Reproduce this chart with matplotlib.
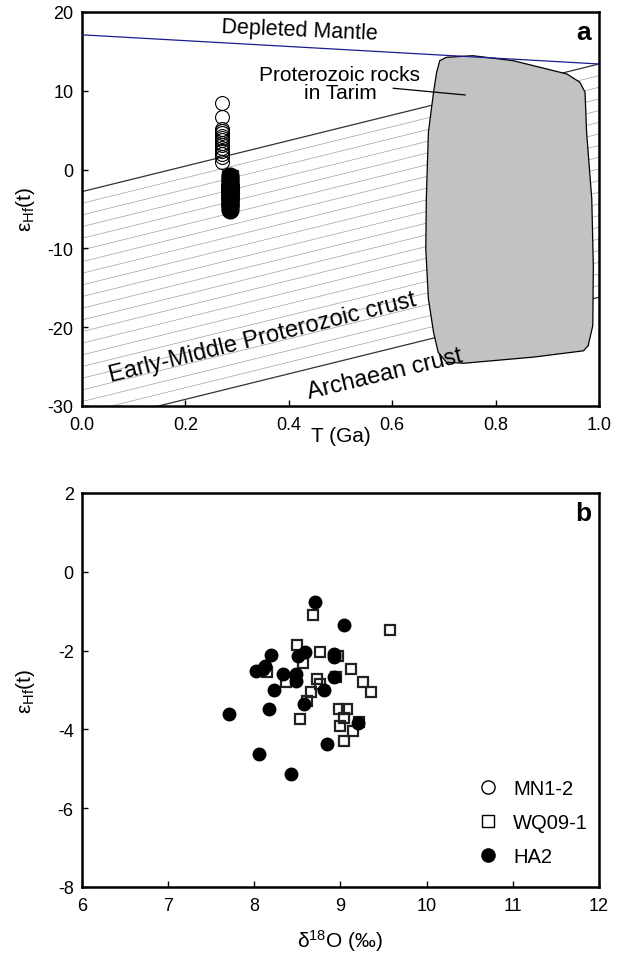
import matplotlib
matplotlib.use('Agg')
import numpy as np
import matplotlib.pyplot as plt
from matplotlib.patches import Polygon
from matplotlib.lines import Line2D

plt.rcParams['font.family'] = ['Liberation Sans', 'DejaVu Sans']
plt.rcParams['mathtext.fontset'] = 'custom'
plt.rcParams['mathtext.rm'] = 'Liberation Sans'
plt.rcParams['mathtext.it'] = 'Liberation Sans:italic'
plt.rcParams['mathtext.bf'] = 'Liberation Sans:bold'
plt.rcParams['axes.unicode_minus'] = False

# --- panel a: evolution lines (T in Ga, eHf(t)) ---
dm_t = [0.0, 1.0]
dm_e = [17.1, 13.4]
crust_top_t = [0.0, 1.0]
crust_top_e = [-2.8, 13.4]
crust_bot_t = [0.0, 1.0]
crust_bot_e = [-32.4, -16.2]

# outline of the Proterozoic rocks field in Tarim
blob_t = [0.692, 0.705, 0.756, 0.834, 0.938, 0.963, 0.973, 0.976, 0.986,
          0.989, 0.988, 0.979, 0.970, 0.873, 0.738, 0.705, 0.689, 0.680,
          0.670, 0.665, 0.666, 0.670, 0.680, 0.686]
blob_e = [13.82, 14.25, 14.45, 13.82, 12.13, 11.08, 9.81, 4.73, -3.7,
          -12.2, -19.8, -22.35, -23.0, -23.8, -24.58, -24.45, -23.2, -20.65,
          -16.4, -10.1, -3.7, 4.73, 9.81, 12.35]

# zircon ages (Ga) and eHf(t)
mn_age = 0.271
mn_ehf = [8.5, 6.7, 5.2, 4.9, 4.6, 4.3, 4.0, 3.7, 3.4, 3.1, 2.7, 2.4, 2.0, 1.6, 0.9]
wq_age = 0.286
ha_age = 0.286

# --- panel b: d18O vs eHf(t) ---
wq_d18o = [8.68, 9.58, 8.50, 8.76, 8.97, 8.56, 9.12, 8.15, 8.95, 8.73, 9.26, 8.37,
           8.76, 9.35, 8.66, 8.61, 8.98, 9.07, 9.04, 9.22, 8.53, 8.99, 9.15, 9.04]
wq_ehf = [-1.10, -1.48, -1.85, -2.04, -2.15, -2.31, -2.48, -2.55, -2.68, -2.72, -2.79, -2.80,
          -2.85, -3.04, -3.04, -3.27, -3.48, -3.48, -3.71, -3.80, -3.74, -3.92, -4.05, -4.30]
ha_d18o = [8.70, 9.04, 8.19, 8.12, 8.02, 8.10, 8.33, 8.48, 8.48, 8.51, 8.59, 8.92,
           8.92, 8.92, 8.81, 8.23, 8.58, 8.17, 7.71, 9.20, 8.84, 8.06, 8.43]
ha_ehf = [-0.77, -1.35, -2.11, -2.38, -2.53, -2.47, -2.60, -2.60, -2.76, -2.13, -2.04, -2.09,
          -2.17, -2.68, -2.99, -2.99, -3.36, -3.48, -3.61, -3.85, -4.37, -4.62, -5.13]

fig = plt.figure(figsize=(6.34, 9.54), dpi=100)
ax1 = fig.add_axes([0.1293, 0.5734, 0.8155, 0.4130])
ax2 = fig.add_axes([0.1293, 0.0692, 0.8155, 0.4130])

for ax in (ax1, ax2):
    for sp in ax.spines.values():
        sp.set_linewidth(1.8)
    ax.tick_params(direction='in', length=4, width=1, labelsize=13, top=False, right=False)
    ax.tick_params(axis='x', pad=7)
    ax.tick_params(axis='y', pad=6)

# ---- panel a ----
n_hatch = 20
for k in range(1, n_hatch):
    f = k / n_hatch
    e = [crust_top_e[i] + (crust_bot_e[i] - crust_top_e[i]) * f for i in range(2)]
    ax1.plot(crust_top_t, e, color='#a0a0a0', lw=0.5, zorder=1)
ax1.plot(crust_top_t, crust_top_e, color='#333333', lw=0.9, zorder=2)
ax1.plot(crust_bot_t, crust_bot_e, color='#333333', lw=0.9, zorder=2)

blob = Polygon(np.column_stack([blob_t, blob_e]), closed=True, facecolor='#c2c2c2',
               edgecolor='black', lw=0.9, zorder=3)
ax1.add_patch(blob)
ax1.plot(dm_t, dm_e, color='#1c1c8f', lw=0.9, zorder=4)

ax1.plot([0.602, 0.741], [10.32, 9.47], color='black', lw=0.9, zorder=5)
ax1.text(0.499, 12.05, 'Proterozoic rocks', ha='center', va='center', fontsize=15, zorder=6)
ax1.text(0.499, 9.75, 'in Tarim', ha='center', va='center', fontsize=15, zorder=6)
ax1.text(0.4217, 17.7, 'Depleted Mantle', ha='center', va='center', fontsize=15.5,
         rotation=-2.5, rotation_mode='anchor', zorder=6)
ax1.text(0.350, -21.2, 'Early-Middle Proterozoic crust', ha='center', va='center',
         fontsize=17, rotation=14, rotation_mode='anchor', zorder=6)
ax1.text(0.586, -25.85, 'Archaean crust', ha='center', va='center',
         fontsize=17, rotation=13.5, rotation_mode='anchor', zorder=6)

ax1.plot([mn_age] * len(mn_ehf), mn_ehf, ls='none', marker='o', ms=10, mfc='none',
         mec='black', mew=0.8, zorder=7)
ax1.plot([wq_age] * len(wq_ehf), wq_ehf, ls='none', marker='s', ms=12, mfc='black',
         mec='#333333', mew=1.0, zorder=7)
ax1.plot([ha_age] * len(ha_ehf), ha_ehf, ls='none', marker='o', ms=12, mfc='black',
         mec='black', zorder=8)

ax1.set_xlim(0, 1)
ax1.set_ylim(-30, 20)
ax1.set_xticks([0, 0.2, 0.4, 0.6, 0.8, 1.0])
ax1.set_xticklabels(['0.0', '0.2', '0.4', '0.6', '0.8', '1.0'])
ax1.set_yticks([-30, -20, -10, 0, 10, 20])
ax1.set_xlabel('T (Ga)', fontsize=15)
ax1.xaxis.set_label_coords(0.5, -0.05)
ax1.set_ylabel(r'ε$_{\rm Hf}$(t)', fontsize=15)
ax1.yaxis.set_label_coords(-0.087, 0.5)
ax1.text(0.985, 0.9315, 'a', transform=ax1.transAxes, ha='right', va='baseline',
         fontsize=19, fontweight='bold')

# ---- panel b ----
ax2.plot(wq_d18o, wq_ehf, ls='none', marker='s', ms=7, mfc='none', mec='#222222',
         mew=1.6, zorder=3)
ax2.plot(ha_d18o, ha_ehf, ls='none', marker='o', ms=9, mfc='black', mec='black', zorder=4)
ax2.set_xlim(6, 12)
ax2.set_ylim(-8, 2)
ax2.set_xticks([6, 7, 8, 9, 10, 11, 12])
ax2.set_yticks([-8, -6, -4, -2, 0, 2])
ax2.set_xlabel(r'δ$^{18}$O (‰)', fontsize=15)
ax2.xaxis.set_label_coords(0.5, -0.103)
ax2.set_ylabel(r'ε$_{\rm Hf}$(t)', fontsize=15)
ax2.yaxis.set_label_coords(-0.087, 0.5)
ax2.text(0.985, 0.9315, 'b', transform=ax2.transAxes, ha='right', va='baseline',
         fontsize=19, fontweight='bold')

handles = [
    Line2D([], [], ls='none', marker='o', ms=9.5, mfc='white', mec='black', mew=1.0),
    Line2D([], [], ls='none', marker='s', ms=8.5, mfc='white', mec='black', mew=1.0),
    Line2D([], [], ls='none', marker='o', ms=9.5, mfc='black', mec='black'),
]
ax2.legend(handles, ['MN1-2', 'WQ09-1', 'HA2'], loc='upper left',
           bbox_to_anchor=(0.766, 0.275), frameon=False, fontsize=14.5,
           borderpad=0, borderaxespad=0, handlelength=1.0, handletextpad=0.75,
           labelspacing=0.75)

fig.savefig('out.png', dpi=100)
